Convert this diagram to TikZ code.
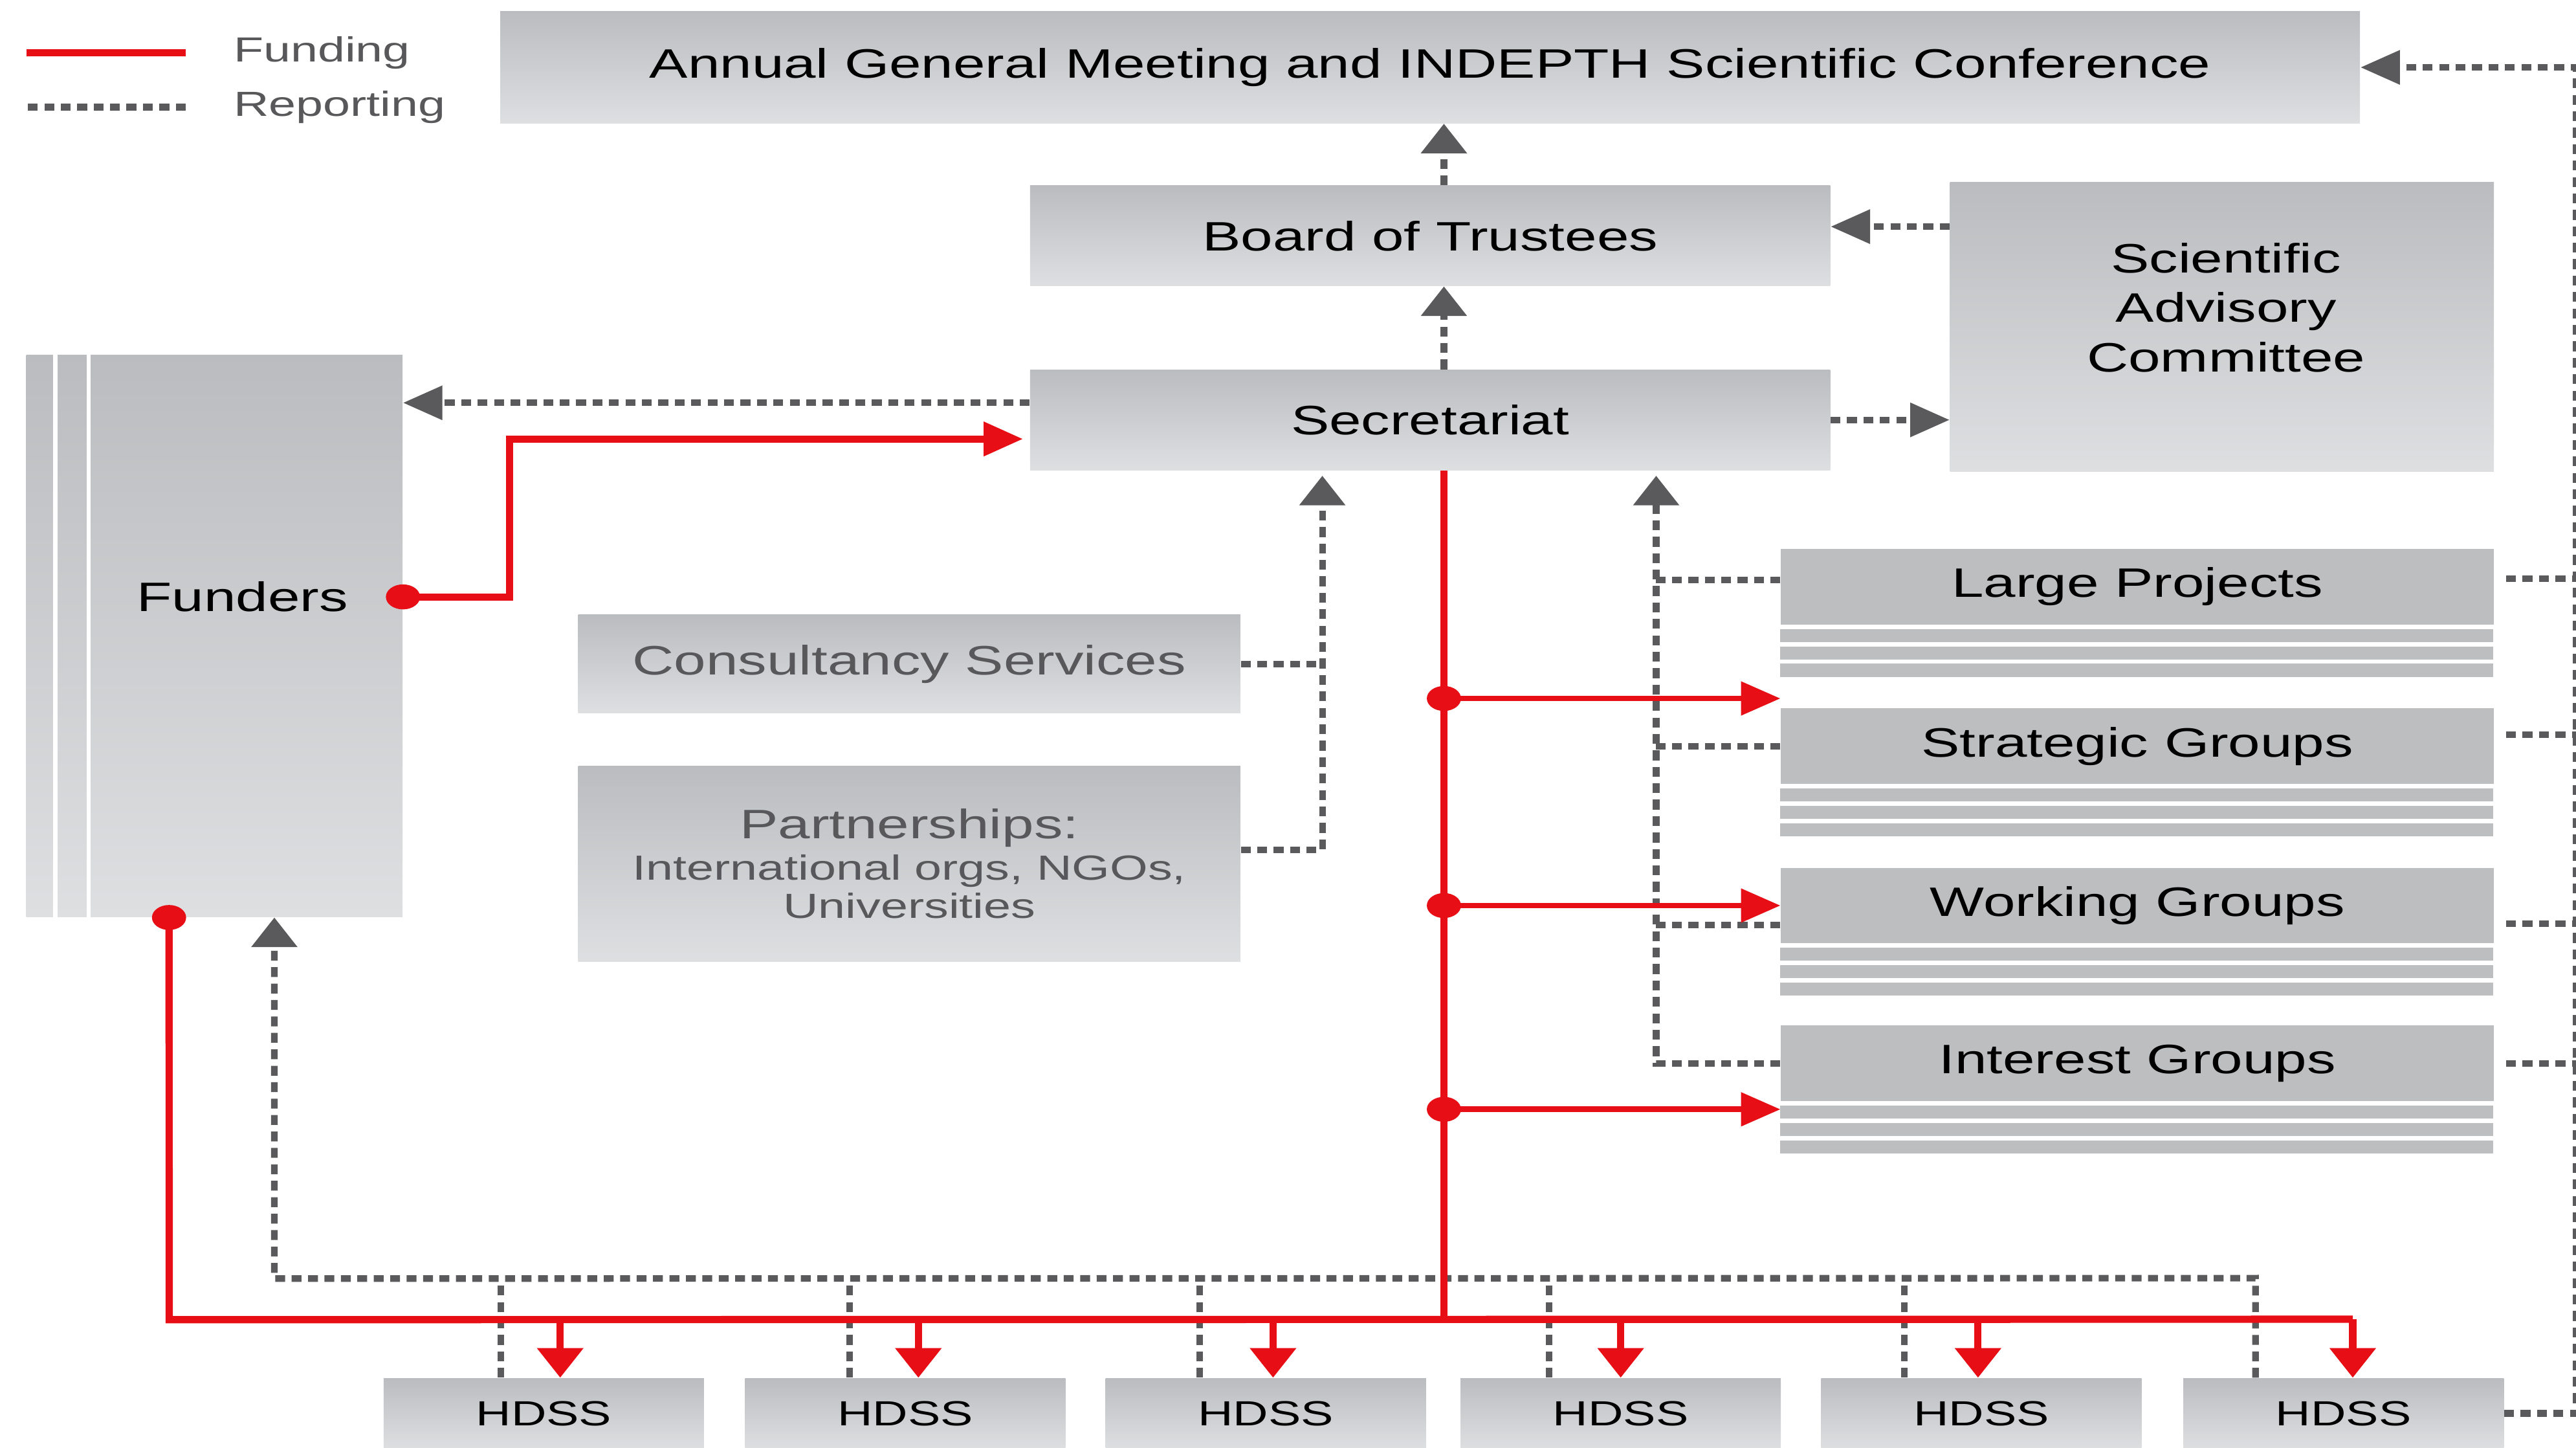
\documentclass[tikz,border=0pt]{standalone}
\usepackage{fontspec}
\setmainfont[FakeStretch=1.4]{Liberation Sans}
\usetikzlibrary{arrows.meta}
\definecolor{fundred}{RGB}{232,14,22}
\definecolor{repgray}{RGB}{90,90,92}
\definecolor{boxtop}{RGB}{187,188,191}
\definecolor{boxbot}{RGB}{222,223,225}
\definecolor{groupgray}{RGB}{189,190,192}
\definecolor{textgray}{RGB}{88,88,90}
\newcommand\boxfont{\fontsize{17.8}{21.3}\selectfont}
\newcommand\hdssfont{\fontsize{15.1}{16.4}\selectfont}

\begin{document}
\begin{tikzpicture}
\useasboundingbox (0,0) rectangle (39.2,-22.025);
\tikzset{box/.style={rectangle, inner sep=0, top color=boxtop, bottom color=boxbot, font=\boxfont, align=center}}
\tikzset{groupbox/.style={rectangle, inner sep=0, fill=groupgray, font=\boxfont, minimum width=10.85cm, minimum height=1.15cm}}
\tikzset{hdss/.style={box, font=\hdssfont, minimum width=4.875cm, minimum height=1.07cm}}
\tikzset{fund/.style={color=fundred, line width=0.11cm}}
\tikzset{report/.style={color=repgray, line width=0.1cm, dash pattern=on 0.15cm off 0.1cm}}
\tikzset{tipH/.tip={Triangle[length=0.6cm,width=0.5cm]}, tipV/.tip={Triangle[length=0.45cm,width=0.68cm]}}

% legend
\node[font=\hdssfont, text=textgray, anchor=west, inner sep=0] (legfund) at (3.55,-0.8) {Funding};
\node[font=\hdssfont, text=textgray, anchor=west, inner sep=0] (legrep) at (3.55,-1.63) {Reporting};
\draw[fund] ([xshift=-0.725cm]legfund.west) -- ++(-2.425,0);
\draw[report] ([xshift=-0.725cm]legrep.west) -- ++(-2.425,0);

% boxes
\node[box, minimum width=28.3cm, minimum height=1.7cm] (agm) at (21.7625,-1.025) {Annual General Meeting and INDEPTH Scientific Conference};
\node[box, minimum width=12.175cm, minimum height=1.525cm] (board) at (21.7625,-3.5875) {Board of Trustees};
\node[box, minimum width=12.175cm, minimum height=1.525cm] (secretariat) at (21.7625,-6.3875) {Secretariat};
\node[box, minimum width=8.275cm, minimum height=4.4cm] (sac) at (33.8125,-4.975) {};
\node[align=center, font=\boxfont] (sactext) at (33.875,-4.68) {Scientific\\Advisory\\Committee};
\node[box, minimum width=5.725cm, minimum height=8.55cm] (funders) at (3.2625,-9.675) {};
\foreach \s in {0.45,0.955} \draw[white, line width=0.065cm] ([xshift=\s cm]funders.north west) -- ([xshift=\s cm]funders.south west);
\node[font=\boxfont] (funderstext) at (3.69,-9.08) {Funders};
\node[box, text=textgray, minimum width=10.075cm, minimum height=1.5cm] (consult) at (13.8375,-10.1) {Consultancy Services};
\node[box, text=textgray, font=\hdssfont, minimum width=10.075cm, minimum height=2.975cm] (partner) at (13.8375,-13.1375) {{\boxfont Partnerships:}\\[0.05cm]International orgs, NGOs,\\Universities};

% groups
\node[groupbox] (large) at (32.525,-8.925) {Large Projects};
\node[groupbox] (strategic) at (32.525,-11.35) {Strategic Groups};
\node[groupbox] (working) at (32.525,-13.775) {Working Groups};
\node[groupbox] (interest) at (32.525,-16.175) {Interest Groups};
\foreach \g in {large,strategic,working,interest}
  \foreach \k in {0,1,2}
    \fill[groupgray] ([yshift={-0.06cm-\k*0.265cm}]\g.south west) rectangle ++(10.85,-0.2);

% field sites
\foreach \x [count=\i] in {8.275,13.775,19.2625,24.6625,30.15,35.6625}
  \node[hdss] (hdss\i) at (\x,-21.5) {HDSS};

% reporting
\draw[report,-tipV] ([xshift=0.21cm]board.north) -- ([xshift=0.21cm]agm.south);
\draw[report,-tipV] ([xshift=0.21cm]secretariat.north) -- ([xshift=0.21cm]board.south);
\coordinate (sacb) at ([yshift=0.14cm]board.east);
\draw[report,-tipH] (sacb -| sac.west) -- (sacb);
\draw[report,-tipH] (secretariat.east) -- (secretariat.east -| sac.west);
\coordinate (secf) at ([yshift=0.26cm]secretariat.west);
\draw[report,-tipH] (secf) -- (secf -| funders.east);
\coordinate (csec) at ([xshift=-1.64cm]secretariat.south);
\draw[report,-tipV,shorten >=0.08cm] ([yshift=0.21cm]partner.east) -| (csec);
\draw[report] (consult.east) -- (consult.east -| csec);
\coordinate (gsec) at ([xshift=3.44cm]secretariat.south);
\draw[report,-tipV,shorten >=0.08cm] (interest.west) -| (gsec);
\foreach \g/\s in {large/0.1,strategic/0,working/-0.3}
  \draw[report] ([yshift=\s cm]\g.west) -- ++(-1.9,0);
\foreach \g/\s in {large/0.125,strategic/0.175,working/-0.275,interest/0}
  \draw[report] ([xshift=0.18cm,yshift=\s cm]\g.east) -- ++(1.1,0);
\coordinate (redge) at (39.2,-21.5);
\draw[report,-tipH] (hdss6.east) -- (redge) |- (agm.east);
\coordinate (rcorner) at (4.175,-19.45);
\draw[report,-tipV] ([xshift=-1.34cm]hdss6.north) -- ++(0,1.515) -- (rcorner) -- (rcorner |- funders.south);
\foreach \rx [count=\i] in {-0.65,-0.85,-1.01,-1.09,-1.175}
  \draw[report] ([xshift=\rx cm]hdss\i.north) -- ++(0,1.45);

% funding
\coordinate (spine) at ([xshift=0.21cm]secretariat.south);
\coordinate (fcorner) at (2.575,-20.075);
\coordinate (fsec) at ([yshift=-0.29cm]secretariat.west);
\draw[fund,-tipH,shorten >=0.1cm] (funderstext -| funders.east) -- ++(1.625,0) |- (fsec);
\draw[fund] ([xshift=-0.69cm]funders.south) -- (fcorner) -- ([xshift=0.14cm,yshift=0.89cm]hdss6.north);
\draw[fund] (spine) -- (spine |- fcorner);
\foreach \fx [count=\i] in {0.25,0.2,0.11,0,-0.05,0.14}
  \draw[fund,-tipV] ([xshift=\fx cm,yshift=0.89cm]hdss\i.north) -- ([xshift=\fx cm]hdss\i.north);
\foreach \y/\g in {-10.625/large,-13.775/working,-16.875/interest}{
  \coordinate (br) at (21.9725,\y);
  \draw[fund,-tipH,line width=0.085cm] (br) -- (br -| \g.west);
  \fill[fundred] (br) ellipse (0.26cm and 0.19cm);
}
\fill[fundred] (funderstext -| funders.east) ellipse (0.26cm and 0.19cm);
\fill[fundred] ([xshift=-0.69cm]funders.south) ellipse (0.26cm and 0.19cm);
\end{tikzpicture}
\end{document}
